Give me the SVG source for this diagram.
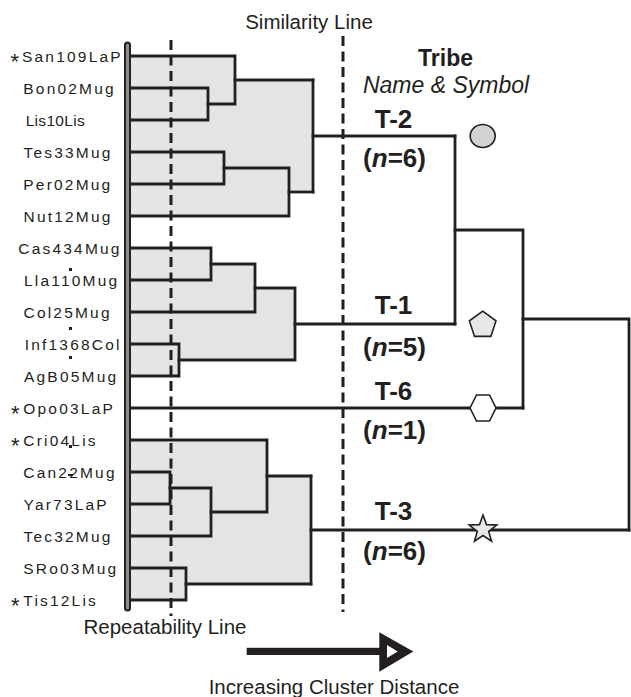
<svg xmlns="http://www.w3.org/2000/svg" width="631" height="697" viewBox="0 0 631 697">
  <style>
    .leaf { font-family: "Liberation Sans", Arial, sans-serif; font-size: 15.5px; letter-spacing: 2.2px; fill: #231f20; }
    .ast { font-family: "Liberation Sans", Arial, sans-serif; font-size: 22px; letter-spacing: 0; fill: #231f20; }
    .caption { font-family: "Liberation Sans", Arial, sans-serif; font-size: 20.5px; fill: #231f20; }
    .tname { font-family: "Liberation Sans", Arial, sans-serif; font-size: 26px; font-weight: bold; fill: #231f20; text-anchor: middle; }
    .head { font-family: "Liberation Sans", Arial, sans-serif; font-size: 23px; fill: #231f20; text-anchor: middle; }
    .link { fill: none; stroke: #231f20; stroke-width: 2.8; stroke-linecap: square; stroke-linejoin: miter; }
    .area { fill: #e3e4e5; stroke: none; }
    .guide { fill: none; stroke: #231f20; stroke-width: 3; stroke-dasharray: 10 5.5; }
    .sym { stroke: #231f20; stroke-width: 1.6; stroke-linejoin: miter; }
    .speck { fill: #231f20; }
  </style>

  <!-- shaded cluster areas -->
  <g id="cluster-areas">
    <path class="area" d="M131,56 H235 V80 H313 V192 H289 V216 H131 Z"/>
    <path class="area" d="M131,248 H211 V264 H255 V288 H295 V360 H179 V376 H131 Z"/>
    <path class="area" d="M131,440 H267 V476 H311 V584 H186 V600 H131 Z"/>
  </g>

  <!-- guide lines -->
  <g id="guides">
    <line class="guide" x1="171" y1="40" x2="171" y2="616"/>
    <line class="guide" x1="343" y1="36" x2="343" y2="612"/>
  </g>

  <!-- dendrogram branches -->
  <g id="connectors">
    <!-- T-2 -->
    <path class="link" d="M131,56 H235 V104 H208"/>
    <path class="link" d="M131,88 H208 V120 H131"/>
    <path class="link" d="M235,80 H313"/>
    <path class="link" d="M131,152 H224 V184 H131"/>
    <path class="link" d="M224,168 H289 V216 H131"/>
    <path class="link" d="M289,192 H313"/>
    <path class="link" d="M313,80 V192"/>
    <path class="link" d="M313,136 H455"/>
    <!-- T-1 -->
    <path class="link" d="M131,248 H211 V280 H131"/>
    <path class="link" d="M211,264 H255 V312 H131"/>
    <path class="link" d="M255,288 H295 V360 H179"/>
    <path class="link" d="M131,344 H179 V376 H131"/>
    <path class="link" d="M295,324 H455"/>
    <!-- T-6 -->
    <path class="link" d="M131,408 H523"/>
    <!-- T-3 -->
    <path class="link" d="M131,440 H267 V512 H211"/>
    <path class="link" d="M131,472 H170 V504 H131"/>
    <path class="link" d="M170,488 H211 V536 H131"/>
    <path class="link" d="M267,476 H311"/>
    <path class="link" d="M131,568 H186 V600 H131"/>
    <path class="link" d="M186,584 H311"/>
    <path class="link" d="M311,476 V584"/>
    <path class="link" d="M311,530 H629"/>
    <!-- joins between tribes -->
    <path class="link" d="M455,136 V324"/>
    <path class="link" d="M455,230 H523 V408"/>
    <path class="link" d="M523,319 H629 V530"/>
  </g>

  <!-- sample axis -->
  <g id="axis-bar">
    <rect x="125" y="42.5" width="5" height="568" rx="2.5" fill="#8c8c8c" stroke="#231f20" stroke-width="2"/>
  </g>

  <!-- sample labels -->
  <g id="leaf-San109LaP"><text class="leaf" x="22" y="62"><tspan class="ast" x="10.5" y="68.5">*</tspan><tspan x="22" y="62">San109LaP</tspan></text></g>
  <g id="leaf-Bon02Mug"><text class="leaf" x="23.3" y="94">Bon02Mug</text></g>
  <g id="leaf-Lis10Lis"><text class="leaf" x="25.7" y="126" style="letter-spacing:0.3px">Lis10Lis</text></g>
  <g id="leaf-Tes33Mug"><text class="leaf" x="23.5" y="158">Tes33Mug</text></g>
  <g id="leaf-Per02Mug"><text class="leaf" x="23.3" y="190">Per02Mug</text></g>
  <g id="leaf-Nut12Mug"><text class="leaf" x="23.5" y="222">Nut12Mug</text></g>
  <g id="leaf-Cas434Mug"><text class="leaf" x="18.3" y="254">Cas434Mug</text></g>
  <g id="leaf-Lla110Mug"><text class="leaf" x="24" y="286">Lla110Mug</text></g>
  <g id="leaf-Col25Mug"><text class="leaf" x="23.5" y="318">Col25Mug</text></g>
  <g id="leaf-Inf1368Col"><text class="leaf" x="24.7" y="350">Inf1368Col</text></g>
  <g id="leaf-AgB05Mug"><text class="leaf" x="24" y="382">AgB05Mug</text></g>
  <g id="leaf-Opo03LaP"><text class="leaf" x="23.3" y="414"><tspan class="ast" x="11" y="420.5">*</tspan><tspan x="23.3" y="414">Opo03LaP</tspan></text></g>
  <g id="leaf-Cri04Lis"><text class="leaf" x="23.3" y="446"><tspan class="ast" x="11" y="452.5">*</tspan><tspan x="23.3" y="446">Cri04Lis</tspan></text></g>
  <g id="leaf-Can22Mug"><text class="leaf" x="23.3" y="478">Can22Mug</text></g>
  <g id="leaf-Yar73LaP"><text class="leaf" x="23.5" y="510">Yar73LaP</text></g>
  <g id="leaf-Tec32Mug"><text class="leaf" x="23.5" y="542">Tec32Mug</text></g>
  <g id="leaf-SRo03Mug"><text class="leaf" x="23.3" y="574">SRo03Mug</text></g>
  <g id="leaf-Tis12Lis"><text class="leaf" x="23.3" y="606"><tspan class="ast" x="11" y="612.5">*</tspan><tspan x="23.3" y="606">Tis12Lis</tspan></text></g>

  <!-- small marks between labels -->
  <g id="marks">
    <rect class="speck" x="69" y="268" width="3" height="3"/>
    <rect class="speck" x="69" y="327" width="3" height="3"/>
    <rect class="speck" x="69" y="356" width="3" height="3"/>
    <rect class="speck" x="69" y="445" width="3" height="3"/>
    <rect class="speck" x="68" y="474" width="5" height="2"/>
  </g>

  <!-- column headings -->
  <g id="heading">
    <text class="caption" x="309" y="29" text-anchor="middle">Similarity Line</text>
    <text class="head" x="445.5" y="65.7" font-weight="bold" font-size="23.5">Tribe</text>
    <text class="head" x="446" y="93.3" font-style="italic">Name &amp; Symbol</text>
  </g>

  <!-- tribes -->
  <g id="tribe-T2">
    <text class="tname" x="393.5" y="128">T-2</text>
    <text class="tname" x="394.5" y="167">(<tspan font-style="italic">n</tspan>=6)</text>
    <ellipse class="sym" cx="482.7" cy="136" rx="12.5" ry="11.5" fill="#d1d2d4"/>
  </g>
  <g id="tribe-T1">
    <text class="tname" x="393.5" y="314">T-1</text>
    <text class="tname" x="394.5" y="356">(<tspan font-style="italic">n</tspan>=5)</text>
    <polygon class="sym" points="482.7,311.2 496,320.9 490.9,336.4 474.5,336.4 469.4,320.9" fill="#e6e7e8"/>
  </g>
  <g id="tribe-T6">
    <text class="tname" x="393.5" y="400">T-6</text>
    <text class="tname" x="394.5" y="439">(<tspan font-style="italic">n</tspan>=1)</text>
    <polygon class="sym" points="470,408 476.5,395 489.5,395 496,408 489.5,421 476.5,421" fill="#ffffff"/>
  </g>
  <g id="tribe-T3">
    <text class="tname" x="393.5" y="520">T-3</text>
    <text class="tname" x="394.5" y="560">(<tspan font-style="italic">n</tspan>=6)</text>
    <polygon class="sym" points="483,515 486.53,524.65 496.79,525.02 488.71,531.35 491.52,541.23 483,535.5 474.48,541.23 477.29,531.35 469.21,525.02 479.47,524.65" fill="#e6e7e8"/>
  </g>

  <!-- footer -->
  <g id="footer">
    <text class="caption" x="165" y="634" text-anchor="middle">Repeatability Line</text>
    <rect x="246.7" y="647.8" width="134" height="7.2" fill="#231f20"/>
    <path d="M379.3,632.3 L413.3,651.5 L379.3,671.7 Z M387,645 L387,658 L397.7,651.5 Z" fill="#231f20" fill-rule="evenodd"/>
    <text class="caption" x="334" y="694" text-anchor="middle" font-size="21">Increasing Cluster Distance</text>
  </g>
</svg>
